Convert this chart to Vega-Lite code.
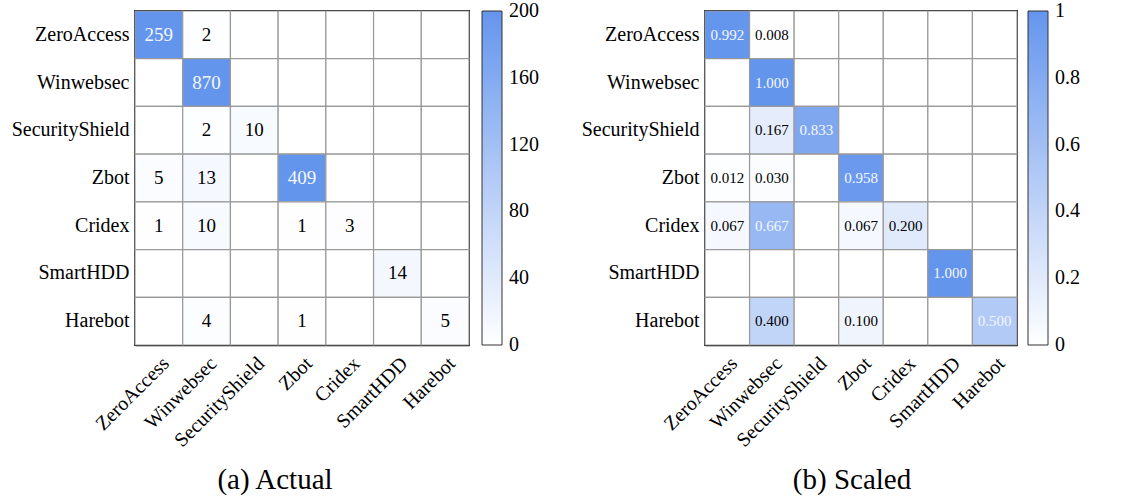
{
  "$schema": "https://vega.github.io/schema/vega-lite/v6.json",
  "padding": {"left": 10, "top": 9, "right": 5, "bottom": 5},
  "background": "white",
  "config": {
    "font": "Liberation Serif",
    "view": {"stroke": "black", "strokeWidth": 2},
    "concat": {"spacing": 40},
    "axis": {"labelFontSize": 20, "labelColor": "black", "ticks": false, "domain": true, "domainColor": "black", "domainWidth": 1.5, "zindex": 1, "title": null, "labelFont": "Liberation Serif"},
    "legend": {"labelFont": "Liberation Serif", "labelColor": "black"}
  },
  "datasets": {
    "actual": [
      {"t": "ZeroAccess", "p": "ZeroAccess", "v": 259}, {"t": "ZeroAccess", "p": "Winwebsec", "v": 2}, {"t": "ZeroAccess", "p": "SecurityShield", "v": 0}, {"t": "ZeroAccess", "p": "Zbot", "v": 0}, {"t": "ZeroAccess", "p": "Cridex", "v": 0}, {"t": "ZeroAccess", "p": "SmartHDD", "v": 0}, {"t": "ZeroAccess", "p": "Harebot", "v": 0},
      {"t": "Winwebsec", "p": "ZeroAccess", "v": 0}, {"t": "Winwebsec", "p": "Winwebsec", "v": 870}, {"t": "Winwebsec", "p": "SecurityShield", "v": 0}, {"t": "Winwebsec", "p": "Zbot", "v": 0}, {"t": "Winwebsec", "p": "Cridex", "v": 0}, {"t": "Winwebsec", "p": "SmartHDD", "v": 0}, {"t": "Winwebsec", "p": "Harebot", "v": 0},
      {"t": "SecurityShield", "p": "ZeroAccess", "v": 0}, {"t": "SecurityShield", "p": "Winwebsec", "v": 2}, {"t": "SecurityShield", "p": "SecurityShield", "v": 10}, {"t": "SecurityShield", "p": "Zbot", "v": 0}, {"t": "SecurityShield", "p": "Cridex", "v": 0}, {"t": "SecurityShield", "p": "SmartHDD", "v": 0}, {"t": "SecurityShield", "p": "Harebot", "v": 0},
      {"t": "Zbot", "p": "ZeroAccess", "v": 5}, {"t": "Zbot", "p": "Winwebsec", "v": 13}, {"t": "Zbot", "p": "SecurityShield", "v": 0}, {"t": "Zbot", "p": "Zbot", "v": 409}, {"t": "Zbot", "p": "Cridex", "v": 0}, {"t": "Zbot", "p": "SmartHDD", "v": 0}, {"t": "Zbot", "p": "Harebot", "v": 0},
      {"t": "Cridex", "p": "ZeroAccess", "v": 1}, {"t": "Cridex", "p": "Winwebsec", "v": 10}, {"t": "Cridex", "p": "SecurityShield", "v": 0}, {"t": "Cridex", "p": "Zbot", "v": 1}, {"t": "Cridex", "p": "Cridex", "v": 3}, {"t": "Cridex", "p": "SmartHDD", "v": 0}, {"t": "Cridex", "p": "Harebot", "v": 0},
      {"t": "SmartHDD", "p": "ZeroAccess", "v": 0}, {"t": "SmartHDD", "p": "Winwebsec", "v": 0}, {"t": "SmartHDD", "p": "SecurityShield", "v": 0}, {"t": "SmartHDD", "p": "Zbot", "v": 0}, {"t": "SmartHDD", "p": "Cridex", "v": 0}, {"t": "SmartHDD", "p": "SmartHDD", "v": 14}, {"t": "SmartHDD", "p": "Harebot", "v": 0},
      {"t": "Harebot", "p": "ZeroAccess", "v": 0}, {"t": "Harebot", "p": "Winwebsec", "v": 4}, {"t": "Harebot", "p": "SecurityShield", "v": 0}, {"t": "Harebot", "p": "Zbot", "v": 1}, {"t": "Harebot", "p": "Cridex", "v": 0}, {"t": "Harebot", "p": "SmartHDD", "v": 0}, {"t": "Harebot", "p": "Harebot", "v": 5}
    ],
    "scaled": [
      {"t": "ZeroAccess", "p": "ZeroAccess", "v": 0.992}, {"t": "ZeroAccess", "p": "Winwebsec", "v": 0.008}, {"t": "ZeroAccess", "p": "SecurityShield", "v": 0}, {"t": "ZeroAccess", "p": "Zbot", "v": 0}, {"t": "ZeroAccess", "p": "Cridex", "v": 0}, {"t": "ZeroAccess", "p": "SmartHDD", "v": 0}, {"t": "ZeroAccess", "p": "Harebot", "v": 0},
      {"t": "Winwebsec", "p": "ZeroAccess", "v": 0}, {"t": "Winwebsec", "p": "Winwebsec", "v": 1.0}, {"t": "Winwebsec", "p": "SecurityShield", "v": 0}, {"t": "Winwebsec", "p": "Zbot", "v": 0}, {"t": "Winwebsec", "p": "Cridex", "v": 0}, {"t": "Winwebsec", "p": "SmartHDD", "v": 0}, {"t": "Winwebsec", "p": "Harebot", "v": 0},
      {"t": "SecurityShield", "p": "ZeroAccess", "v": 0}, {"t": "SecurityShield", "p": "Winwebsec", "v": 0.167}, {"t": "SecurityShield", "p": "SecurityShield", "v": 0.833}, {"t": "SecurityShield", "p": "Zbot", "v": 0}, {"t": "SecurityShield", "p": "Cridex", "v": 0}, {"t": "SecurityShield", "p": "SmartHDD", "v": 0}, {"t": "SecurityShield", "p": "Harebot", "v": 0},
      {"t": "Zbot", "p": "ZeroAccess", "v": 0.012}, {"t": "Zbot", "p": "Winwebsec", "v": 0.030}, {"t": "Zbot", "p": "SecurityShield", "v": 0}, {"t": "Zbot", "p": "Zbot", "v": 0.958}, {"t": "Zbot", "p": "Cridex", "v": 0}, {"t": "Zbot", "p": "SmartHDD", "v": 0}, {"t": "Zbot", "p": "Harebot", "v": 0},
      {"t": "Cridex", "p": "ZeroAccess", "v": 0.067}, {"t": "Cridex", "p": "Winwebsec", "v": 0.667}, {"t": "Cridex", "p": "SecurityShield", "v": 0}, {"t": "Cridex", "p": "Zbot", "v": 0.067}, {"t": "Cridex", "p": "Cridex", "v": 0.200}, {"t": "Cridex", "p": "SmartHDD", "v": 0}, {"t": "Cridex", "p": "Harebot", "v": 0},
      {"t": "SmartHDD", "p": "ZeroAccess", "v": 0}, {"t": "SmartHDD", "p": "Winwebsec", "v": 0}, {"t": "SmartHDD", "p": "SecurityShield", "v": 0}, {"t": "SmartHDD", "p": "Zbot", "v": 0}, {"t": "SmartHDD", "p": "Cridex", "v": 0}, {"t": "SmartHDD", "p": "SmartHDD", "v": 1.0}, {"t": "SmartHDD", "p": "Harebot", "v": 0},
      {"t": "Harebot", "p": "ZeroAccess", "v": 0}, {"t": "Harebot", "p": "Winwebsec", "v": 0.400}, {"t": "Harebot", "p": "SecurityShield", "v": 0}, {"t": "Harebot", "p": "Zbot", "v": 0.100}, {"t": "Harebot", "p": "Cridex", "v": 0}, {"t": "Harebot", "p": "SmartHDD", "v": 0}, {"t": "Harebot", "p": "Harebot", "v": 0.500}
    ]
  },
  "hconcat": [
    {
      "width": 334,
      "height": 334,
      "data": {"name": "actual"},
      "title": {"text": "(a) Actual", "orient": "bottom", "fontSize": 29, "fontWeight": "normal", "font": "Liberation Serif", "offset": 16, "anchor": "middle", "frame": "group", "dx": -27},
      "encoding": {
        "x": {"field": "p", "type": "nominal", "sort": ["ZeroAccess", "Winwebsec", "SecurityShield", "Zbot", "Cridex", "SmartHDD", "Harebot"], "axis": {"labelAngle": -45, "labelPadding": 8}},
        "y": {"field": "t", "type": "nominal", "sort": ["ZeroAccess", "Winwebsec", "SecurityShield", "Zbot", "Cridex", "SmartHDD", "Harebot"], "axis": {"labelPadding": 6}}
      },
      "layer": [
        {
          "mark": {"type": "rect", "stroke": "#999999", "strokeWidth": 1.2},
          "encoding": {
            "color": {
              "field": "v", "type": "quantitative",
              "scale": {"domain": [0, 200], "range": ["#ffffff", "#6495ED"], "clamp": true, "interpolate": "rgb"},
              "legend": {"orient": "right", "title": null, "gradientLength": 334, "gradientThickness": 20, "offset": 13, "values": [0, 40, 80, 120, 160, 200], "format": "d", "labelFontSize": 20, "labelOffset": 7, "gradientStrokeColor": "#333333", "gradientStrokeWidth": 1, "labelOverlap": false, "encode": {"labels": {"update": {"baseline": {"value": "middle"}}}}}
            }
          }
        },
        {
          "transform": [{"filter": "datum.v > 0"}],
          "mark": {"type": "text", "fontSize": 19, "font": "Liberation Serif"},
          "encoding": {
            "text": {"field": "v", "type": "quantitative", "format": "d"},
            "color": {"condition": {"test": "datum.v > 90", "value": "#f4f7fe"}, "value": "black"}
          }
        }
      ]
    },
    {
      "width": 312,
      "height": 334,
      "data": {"name": "scaled"},
      "title": {"text": "(b) Scaled", "orient": "bottom", "fontSize": 29, "fontWeight": "normal", "font": "Liberation Serif", "offset": 16, "anchor": "middle", "frame": "group", "dx": -9},
      "encoding": {
        "x": {"field": "p", "type": "nominal", "sort": ["ZeroAccess", "Winwebsec", "SecurityShield", "Zbot", "Cridex", "SmartHDD", "Harebot"], "axis": {"labelAngle": -45, "labelPadding": 8}},
        "y": {"field": "t", "type": "nominal", "sort": ["ZeroAccess", "Winwebsec", "SecurityShield", "Zbot", "Cridex", "SmartHDD", "Harebot"], "axis": {"labelPadding": 6}}
      },
      "layer": [
        {
          "mark": {"type": "rect", "stroke": "#999999", "strokeWidth": 1.2},
          "encoding": {
            "color": {
              "field": "v", "type": "quantitative",
              "scale": {"domain": [0, 1], "range": ["#ffffff", "#6495ED"], "clamp": true, "interpolate": "rgb"},
              "legend": {"orient": "right", "title": null, "gradientLength": 334, "gradientThickness": 20, "offset": 11, "values": [0, 0.2, 0.4, 0.6, 0.8, 1], "format": "~g", "labelFontSize": 20, "labelOffset": 7, "gradientStrokeColor": "#333333", "gradientStrokeWidth": 1, "labelOverlap": false, "encode": {"labels": {"update": {"baseline": {"value": "middle"}}}}}
            }
          }
        },
        {
          "transform": [{"filter": "datum.v > 0"}],
          "mark": {"type": "text", "fontSize": 15, "font": "Liberation Serif"},
          "encoding": {
            "text": {"field": "v", "type": "quantitative", "format": ".3f"},
            "color": {"condition": {"test": "datum.v > 0.45", "value": "#f4f7fe"}, "value": "black"}
          }
        }
      ]
    }
  ],
  "resolve": {"scale": {"color": "independent"}}
}
